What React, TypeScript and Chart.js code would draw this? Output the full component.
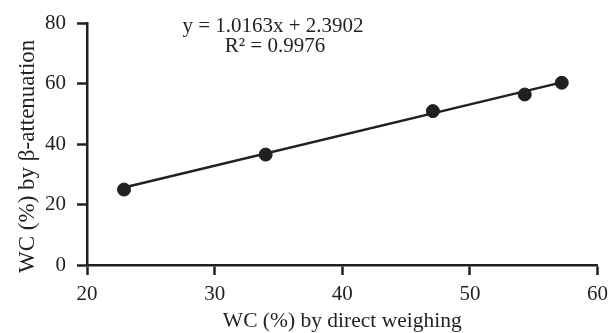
import React, { useEffect, useRef } from "react";
import { Chart, registerables } from "chart.js";

Chart.register(...registerables);

const xValues = [22.9, 34.0, 47.1, 54.3, 57.2];
const yValues = [25.0, 36.6, 51.0, 56.5, 60.4];
const slope = 1.0163;
const intercept = 2.3902;
const rSquared = 0.9976;
const xTicks = [20, 30, 40, 50, 60];
const yTicks = [0, 20, 40, 60, 80];
const xTitle = "WC (%) by direct weighing";
const yTitle = "WC (%) by β-attenuation";
const equationText = `y = ${slope.toFixed(4)}x + ${intercept.toFixed(4)}`;
const r2Text = `R² = ${rSquared.toFixed(4)}`;

const INK = "#231f20";
const FONT = '"Liberation Serif", "Times New Roman", serif';

export default function App() {
  const ref = useRef<HTMLCanvasElement | null>(null);

  useEffect(() => {
    if (!ref.current) return;
    const points = xValues.map((x, i) => ({ x, y: yValues[i] }));
    const xMin = Math.min(...xValues);
    const xMax = Math.max(...xValues);
    const trend = [xMin, xMax].map((x) => ({ x, y: slope * x + intercept }));

    const textPlugin = {
      id: "textPlugin",
      afterDraw(chart: any) {
        const ctx = chart.ctx;
        const area = chart.chartArea;
        ctx.save();
        ctx.fillStyle = INK;
        ctx.font = `21px ${FONT}`;
        ctx.textAlign = "center";
        ctx.textBaseline = "middle";
        ctx.fillText(equationText, 273, 26);
        ctx.fillText(r2Text, 275, 46);
        ctx.font = `23px ${FONT}`;
        ctx.translate(28, (area.top + area.bottom) / 2 + 12);
        ctx.rotate(-Math.PI / 2);
        ctx.fillText(yTitle, 0, 0);
        ctx.restore();
      },
    };

    const chart = new Chart(ref.current, {
      type: "scatter",
      data: {
        datasets: [
          {
            type: "line",
            data: trend,
            borderColor: INK,
            borderWidth: 2.5,
            pointRadius: 0,
            fill: false,
          },
          {
            type: "scatter",
            data: points,
            backgroundColor: INK,
            borderColor: INK,
            pointRadius: 6.5,
            pointHoverRadius: 6.5,
          },
        ],
      },
      options: {
        animation: false,
        responsive: false,
        devicePixelRatio: 1,
        layout: { padding: { top: 18, right: 15, left: 0, bottom: 0 } },
        plugins: {
          legend: { display: false },
          tooltip: { enabled: false },
        },
        scales: {
          x: {
            type: "linear",
            min: 20,
            max: 60,
            afterBuildTicks: (s: any) => {
              s.ticks = xTicks.map((v) => ({ value: v }));
            },
            afterFit: (s: any) => {
              s.height = 68;
            },
            border: { display: true, color: INK, width: 2.5 },
            grid: {
              drawOnChartArea: false,
              drawTicks: true,
              tickLength: 10,
              tickWidth: 2.5,
              tickColor: INK,
              color: INK,
            },
            ticks: {
              color: INK,
              font: { family: FONT, size: 21 },
              padding: 7,
              maxRotation: 0,
            },
            title: {
              display: true,
              text: xTitle,
              color: INK,
              font: { family: FONT, size: 21.5 },
              padding: { top: 0, bottom: -1 },
            },
          },
          y: {
            type: "linear",
            min: 0,
            max: 80,
            afterBuildTicks: (s: any) => {
              s.ticks = yTicks.map((v) => ({ value: v }));
            },
            afterFit: (s: any) => {
              s.width = 87;
            },
            border: { display: true, color: INK, width: 2.5 },
            grid: {
              drawOnChartArea: false,
              drawTicks: true,
              tickLength: 10,
              tickWidth: 2.5,
              tickColor: INK,
              color: INK,
            },
            ticks: {
              color: INK,
              font: { family: FONT, size: 21 },
              padding: 11,
            },
          },
        },
      },
      plugins: [textPlugin],
    });
    return () => chart.destroy();
  }, []);

  return (
    <div style={{ position: "fixed", left: 0, top: 0, width: 615, height: 333, background: "#fff" }}>
      <canvas ref={ref} width={615} height={333} style={{ width: 615, height: 333 }} />
    </div>
  );
}
